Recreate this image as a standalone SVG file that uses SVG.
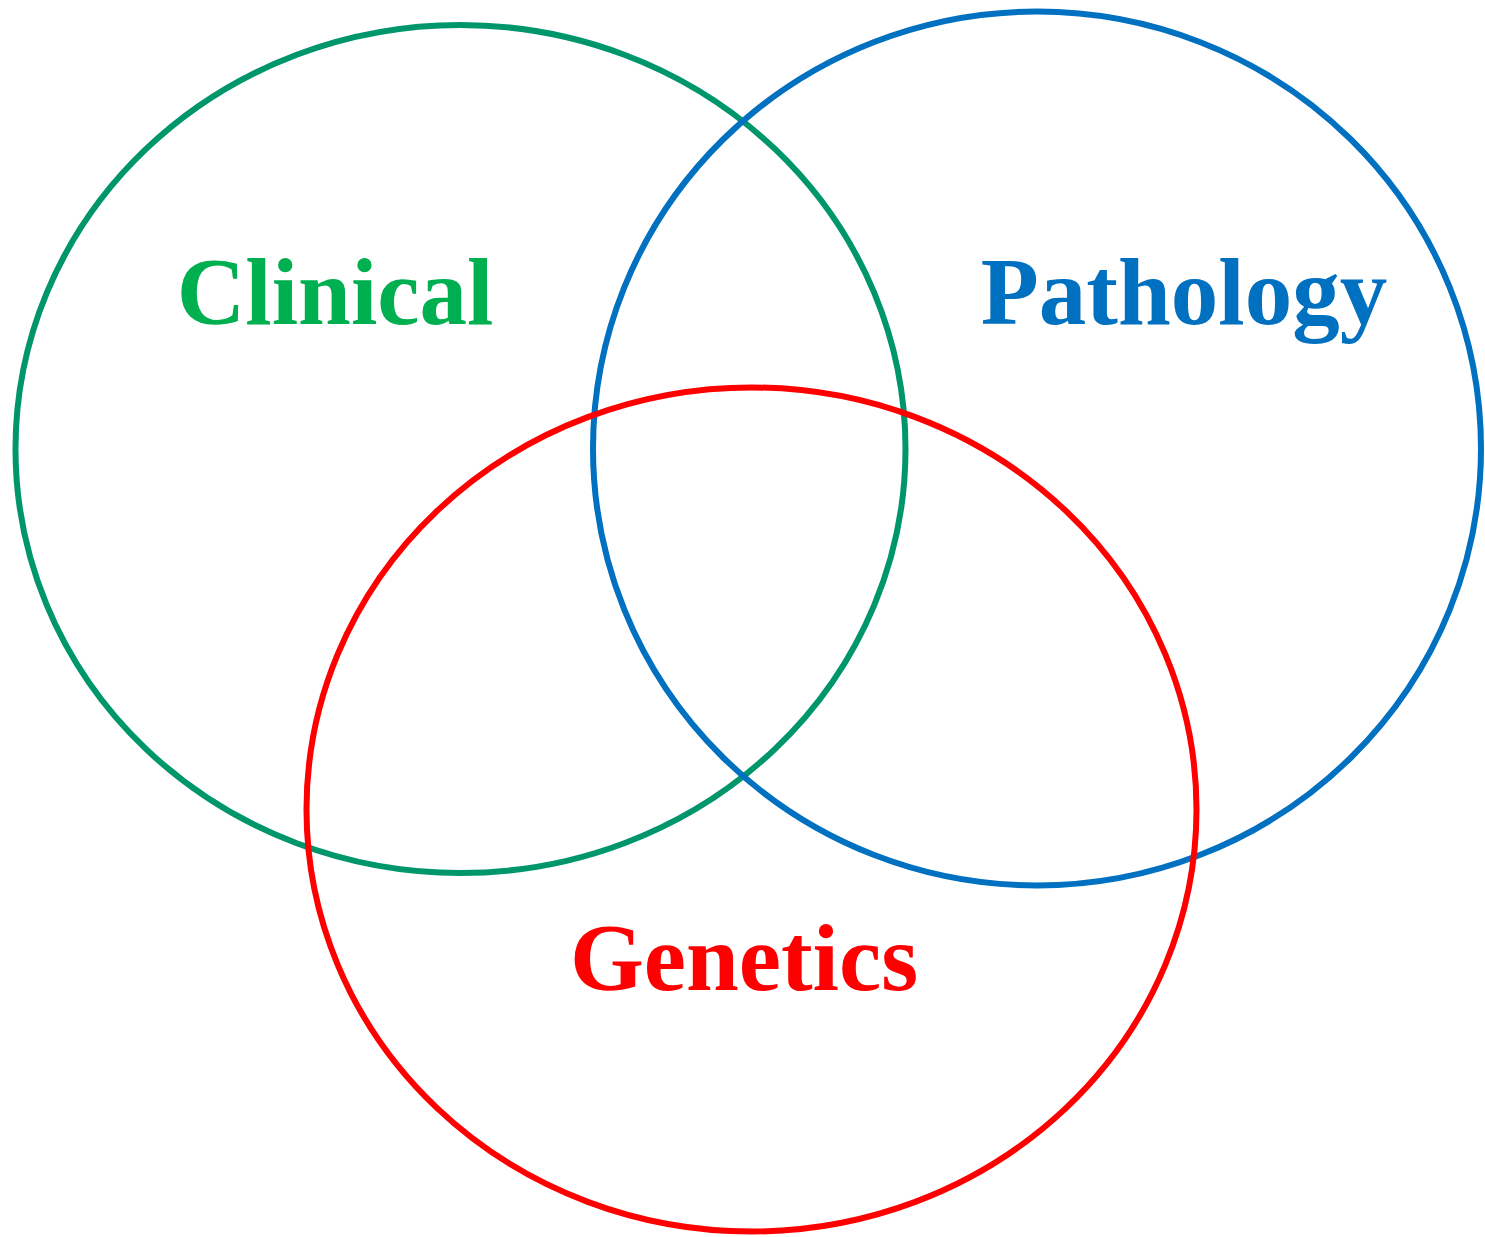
<svg xmlns="http://www.w3.org/2000/svg" width="1485" height="1237" viewBox="0 0 1485 1237">
<style>
.ring{fill:none;stroke-width:6}
.lbl{font-family:"Liberation Serif","Times New Roman",serif;font-weight:bold;font-size:95px;text-anchor:middle}
</style>
<rect width="1485" height="1237" fill="#ffffff"/>
<g id="clinical">
<ellipse class="ring" cx="460.5" cy="449" rx="445" ry="424" stroke="#00966C"/>
<text class="lbl" x="335" y="324" fill="#00B050">Clinical</text>
</g>
<g id="pathology">
<ellipse class="ring" cx="1037" cy="448.5" rx="444" ry="437" stroke="#0070C0"/>
<text class="lbl" x="1184" y="324" fill="#0070C0">Pathology</text>
</g>
<g id="genetics">
<ellipse class="ring" cx="751.5" cy="809.5" rx="445" ry="422" stroke="#FF0000"/>
<text class="lbl" x="744" y="990" fill="#FF0000">Genetics</text>
</g>
<g id="connectors"/>
</svg>
